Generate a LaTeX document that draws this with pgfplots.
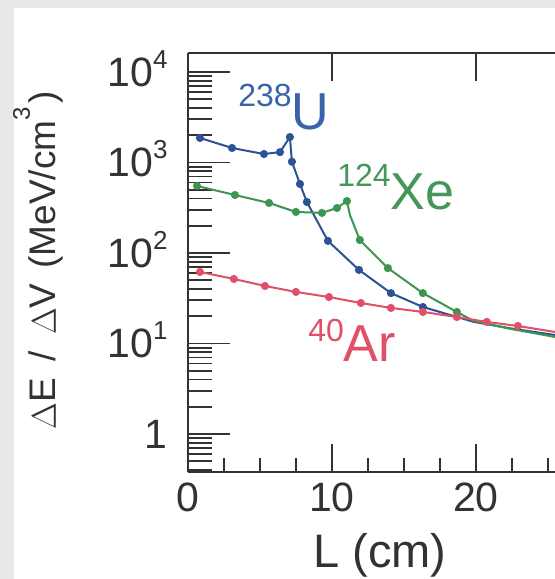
\documentclass[border=0pt]{standalone}
\usepackage{pgfplots}
\pgfplotsset{compat=1.18}
\usepackage{fontspec}
\setmainfont{Liberation Sans}
\definecolor{ublue}{RGB}{45,82,150}
\definecolor{ubluet}{RGB}{55,100,170}
\definecolor{xgreen}{RGB}{60,150,80}
\definecolor{xgreent}{RGB}{70,150,90}
\definecolor{arred}{RGB}{225,80,105}
\definecolor{axgray}{RGB}{50,50,50}
\definecolor{bggray}{RGB}{233,233,233}
\newcommand\tsup[1]{\raisebox{9pt}{\fontsize{13}{13}\selectfont #1}}
\newcommand\iso[3]{\raisebox{#3}{\fontsize{16}{16}\selectfont #1}{\fontsize{26}{26}\selectfont #2}}
\begin{document}
\begin{tikzpicture}
\fill[bggray] (0,0) rectangle (277.5pt,289.5pt);
\fill[white] (7pt,0) rectangle (277.5pt,285.5pt);
\begin{axis}[
  at={(94pt,53.5pt)}, anchor=south west,
  scale only axis, width=183.5pt, height=209.5pt,
  xmin=0, xmax=25.5, ymode=log, ymin=0.38, ymax=16200,
  axis x line*=box, axis y line*=left,
  axis line style={axgray, line width=1pt},
  tick align=inside,
  every tick/.style={axgray, line width=0.9pt},
  xtick={0,10,20}, xticklabels={0,10,20},
  minor xtick={2.5,5,7.5,12.5,15,17.5,22.5,25},
  xtick pos=left,
  xtick style={/pgfplots/major tick length=14pt, /pgfplots/minor tick length=7pt},
  ytick={1,10,100,1000,10000},
  yticklabels={1, 10\tsup{1}, 10\tsup{2}, 10\tsup{3}, 10\tsup{4}},
  minor ytick={0.4,0.5,0.6,0.7,0.8,0.9,2,3,4,5,6,7,8,9,20,30,40,50,60,70,80,90,200,300,400,500,600,700,800,900,2000,3000,4000,5000,6000,7000,8000,9000},
  ytick style={/pgfplots/major tick length=21pt, /pgfplots/minor tick length=12pt},
  xticklabel style={font=\fontsize{20.5}{20.5}\selectfont, text=axgray, anchor=base, yshift=-19.5pt, inner sep=0pt},
  yticklabel style={font=\fontsize{20.5}{20.5}\selectfont, text=axgray, anchor=base east, yshift=-7.2pt, xshift=-10pt, inner sep=0pt},
  xlabel={L (cm)},
  xlabel style={font=\fontsize{23.5}{23.5}\selectfont, text=axgray, at={(rel axis cs:0.523,0)}, anchor=base, yshift=-47.5pt, inner sep=0pt},
  ylabel={$\Delta$E\hspace{0.45em}/\hspace{0.45em}$\Delta$V\hspace{0.4em}(MeV/cm\raisebox{13pt}{\fontsize{12}{12}\selectfont 3}\hspace{0.1em})},
  ylabel style={font=\fontsize{18.5}{18.5}\selectfont, text=axgray, at={(rel axis cs:0,0.505)}, anchor=base, yshift=66pt, inner sep=0pt},
]
\addplot[color=ublue, line width=1pt, mark=*, mark size=1.5pt, mark indices={1,2,3,4,5,6,7,8,9,10,11,12}] coordinates {
(0.83,1866) (3.06,1445) (5.28,1240) (6.39,1300) (7.08,1910) (7.22,1020)
(7.78,578) (8.26,366) (9.72,136) (11.88,65) (14.10,36) (16.32,25.3)
(19.86,17.3) (22.5,14.6) (25.5,12.4)};
\addplot[color=xgreen, line width=1pt, mark=*, mark size=1.5pt, mark indices={1,2,3,4,5,6,7,9,10,11,12}] coordinates {
(0.63,550) (3.26,437) (5.63,357) (7.5,284) (9.31,277) (10.35,314) (11.04,375)
(11.25,263) (11.94,139) (13.89,68) (16.32,36) (18.68,22.3)
(19.86,17.7) (22.5,14.4) (25.5,11.8)};
\addplot[color=arred, line width=1pt, mark=*, mark size=1.5pt, mark indices={1,2,3,4,5,6,7,8,9,10,11}] coordinates {
(0.83,61.7) (3.19,51.6) (5.35,43.2) (7.5,37.1) (9.79,32.6) (12.01,28)
(14.10,24.7) (16.32,22.3) (18.68,19.6) (20.76,17.3) (22.92,15.6) (25.5,13.4)};
\node[anchor=base west, text=ubluet, inner sep=0pt] at (axis cs:3.47,2287) {\iso{238}{U}{11.5pt}};
\node[anchor=base west, text=xgreent, inner sep=0pt] at (axis cs:10.35,298.6) {\iso{124}{Xe}{11.5pt}};
\node[anchor=base west, text=arred, inner sep=0pt] at (axis cs:8.33,6.25) {\iso{40}{Ar}{10pt}};
\end{axis}
% top-axis major ticks at L = 10 and L = 20 (axis box: x from 94pt to 277.5pt, top at 263pt)
\draw[axgray, line width=1.2pt] (165.96pt,263pt) -- (165.96pt,249pt);
\draw[axgray, line width=1.2pt] (237.92pt,263pt) -- (237.92pt,249pt);
\pgfresetboundingbox
\path (0,0) rectangle (277.5pt,289.5pt);
\end{tikzpicture}
\end{document}
